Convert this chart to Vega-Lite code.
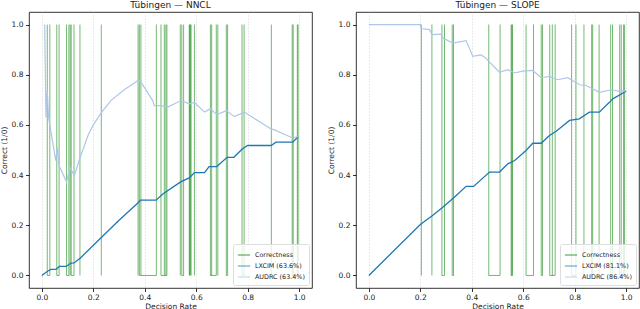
{
  "$schema": "https://vega.github.io/schema/vega-lite/v6.json",
  "padding": {"left": -1, "top": 0, "right": 0, "bottom": 0},
  "spacing": 13,
  "config": {
    "font": "DejaVu Sans",
    "view": {"stroke": "#000", "strokeWidth": 0.8},
    "axis": {
      "labelFontSize": 7.5, "titleFontSize": 7.5, "titleFontWeight": "normal",
      "labelColor": "#222", "titleColor": "#222", "tickColor": "#000",
      "tickSize": 3.5, "tickWidth": 0.8, "domain": false,
      "gridColor": "#bbb", "gridDash": [1, 2], "gridWidth": 0.6,
      "labelPadding": 2.5, "titlePadding": 3
    },
    "axisX": {"labelPadding": 2, "titlePadding": 1},
    "title": {"fontSize": 9, "fontWeight": "normal", "color": "#222", "offset": 2},
    "legend": {
      "orient": "bottom-right", "offset": 3, "padding": 4,
      "fillColor": "rgba(255,255,255,0.8)", "strokeColor": "#ddd", "cornerRadius": 2,
      "labelFontSize": 6.4, "labelColor": "#222", "symbolType": "stroke",
      "symbolSize": 150, "symbolStrokeWidth": 1.4, "rowPadding": 0
    }
  },
  "datasets": {
    "nncl_flips": [
      {"rate": 0.021}, {"rate": 0.031}, {"rate": 0.058}, {"rate": 0.067}, {"rate": 0.096},
      {"rate": 0.105}, {"rate": 0.110}, {"rate": 0.114}, {"rate": 0.125}, {"rate": 0.148},
      {"rate": 0.231}, {"rate": 0.374}, {"rate": 0.379}, {"rate": 0.385}, {"rate": 0.445},
      {"rate": 0.463}, {"rate": 0.476}, {"rate": 0.482}, {"rate": 0.486}, {"rate": 0.538},
      {"rate": 0.544}, {"rate": 0.551}, {"rate": 0.573}, {"rate": 0.576}, {"rate": 0.576},
      {"rate": 0.580}, {"rate": 0.593}, {"rate": 0.655}, {"rate": 0.660}, {"rate": 0.678},
      {"rate": 0.684}, {"rate": 0.717}, {"rate": 0.722}, {"rate": 0.778}, {"rate": 0.786},
      {"rate": 0.892}, {"rate": 0.973}, {"rate": 0.977}, {"rate": 0.993}, {"rate": 0.996}
    ],
    "nncl_zero": [
      {"start": 0.021, "end": 0.031}, {"start": 0.058, "end": 0.067}, {"start": 0.096, "end": 0.105},
      {"start": 0.114, "end": 0.125}, {"start": 0.379, "end": 0.445}, {"start": 0.463, "end": 0.486},
      {"start": 0.544, "end": 0.551}, {"start": 0.655, "end": 0.678}, {"start": 0.717, "end": 0.722},
      {"start": 0.778, "end": 0.786}, {"start": 0.973, "end": 0.977}, {"start": 0.993, "end": 0.996}
    ],
    "nncl_curves": [
      {"series": "LXCIM (63.6%)", "rate": 0.0, "value": 0.0},
      {"series": "LXCIM (63.6%)", "rate": 0.01, "value": 0.008},
      {"series": "LXCIM (63.6%)", "rate": 0.022, "value": 0.017},
      {"series": "LXCIM (63.6%)", "rate": 0.035, "value": 0.024},
      {"series": "LXCIM (63.6%)", "rate": 0.055, "value": 0.024},
      {"series": "LXCIM (63.6%)", "rate": 0.068, "value": 0.036},
      {"series": "LXCIM (63.6%)", "rate": 0.094, "value": 0.036},
      {"series": "LXCIM (63.6%)", "rate": 0.113, "value": 0.049},
      {"series": "LXCIM (63.6%)", "rate": 0.125, "value": 0.05},
      {"series": "LXCIM (63.6%)", "rate": 0.15, "value": 0.07},
      {"series": "LXCIM (63.6%)", "rate": 0.23, "value": 0.15},
      {"series": "LXCIM (63.6%)", "rate": 0.30, "value": 0.22},
      {"series": "LXCIM (63.6%)", "rate": 0.372, "value": 0.288},
      {"series": "LXCIM (63.6%)", "rate": 0.383, "value": 0.30},
      {"series": "LXCIM (63.6%)", "rate": 0.444, "value": 0.30},
      {"series": "LXCIM (63.6%)", "rate": 0.47, "value": 0.325},
      {"series": "LXCIM (63.6%)", "rate": 0.541, "value": 0.374},
      {"series": "LXCIM (63.6%)", "rate": 0.573, "value": 0.389},
      {"series": "LXCIM (63.6%)", "rate": 0.593, "value": 0.41},
      {"series": "LXCIM (63.6%)", "rate": 0.632, "value": 0.41},
      {"series": "LXCIM (63.6%)", "rate": 0.65, "value": 0.434},
      {"series": "LXCIM (63.6%)", "rate": 0.68, "value": 0.434},
      {"series": "LXCIM (63.6%)", "rate": 0.72, "value": 0.471},
      {"series": "LXCIM (63.6%)", "rate": 0.746, "value": 0.471},
      {"series": "LXCIM (63.6%)", "rate": 0.78, "value": 0.505},
      {"series": "LXCIM (63.6%)", "rate": 0.80, "value": 0.518},
      {"series": "LXCIM (63.6%)", "rate": 0.891, "value": 0.518},
      {"series": "LXCIM (63.6%)", "rate": 0.91, "value": 0.531},
      {"series": "LXCIM (63.6%)", "rate": 0.975, "value": 0.531},
      {"series": "LXCIM (63.6%)", "rate": 0.997, "value": 0.554},
      {"series": "AUDRC (63.4%)", "rate": 0.011, "value": 1.0},
      {"series": "AUDRC (63.4%)", "rate": 0.013, "value": 0.84},
      {"series": "AUDRC (63.4%)", "rate": 0.016, "value": 0.63},
      {"series": "AUDRC (63.4%)", "rate": 0.021, "value": 0.74},
      {"series": "AUDRC (63.4%)", "rate": 0.026, "value": 0.63},
      {"series": "AUDRC (63.4%)", "rate": 0.054, "value": 0.458},
      {"series": "AUDRC (63.4%)", "rate": 0.060, "value": 0.51},
      {"series": "AUDRC (63.4%)", "rate": 0.066, "value": 0.44},
      {"series": "AUDRC (63.4%)", "rate": 0.096, "value": 0.372},
      {"series": "AUDRC (63.4%)", "rate": 0.109, "value": 0.431},
      {"series": "AUDRC (63.4%)", "rate": 0.126, "value": 0.398},
      {"series": "AUDRC (63.4%)", "rate": 0.149, "value": 0.471},
      {"series": "AUDRC (63.4%)", "rate": 0.18, "value": 0.56},
      {"series": "AUDRC (63.4%)", "rate": 0.20, "value": 0.60},
      {"series": "AUDRC (63.4%)", "rate": 0.23, "value": 0.647},
      {"series": "AUDRC (63.4%)", "rate": 0.268, "value": 0.697},
      {"series": "AUDRC (63.4%)", "rate": 0.32, "value": 0.74},
      {"series": "AUDRC (63.4%)", "rate": 0.374, "value": 0.777},
      {"series": "AUDRC (63.4%)", "rate": 0.385, "value": 0.771},
      {"series": "AUDRC (63.4%)", "rate": 0.431, "value": 0.697},
      {"series": "AUDRC (63.4%)", "rate": 0.437, "value": 0.677},
      {"series": "AUDRC (63.4%)", "rate": 0.463, "value": 0.677},
      {"series": "AUDRC (63.4%)", "rate": 0.489, "value": 0.671},
      {"series": "AUDRC (63.4%)", "rate": 0.541, "value": 0.697},
      {"series": "AUDRC (63.4%)", "rate": 0.573, "value": 0.684},
      {"series": "AUDRC (63.4%)", "rate": 0.593, "value": 0.69},
      {"series": "AUDRC (63.4%)", "rate": 0.632, "value": 0.651},
      {"series": "AUDRC (63.4%)", "rate": 0.655, "value": 0.664},
      {"series": "AUDRC (63.4%)", "rate": 0.681, "value": 0.641},
      {"series": "AUDRC (63.4%)", "rate": 0.717, "value": 0.657},
      {"series": "AUDRC (63.4%)", "rate": 0.748, "value": 0.633},
      {"series": "AUDRC (63.4%)", "rate": 0.787, "value": 0.651},
      {"series": "AUDRC (63.4%)", "rate": 0.891, "value": 0.584},
      {"series": "AUDRC (63.4%)", "rate": 0.904, "value": 0.58},
      {"series": "AUDRC (63.4%)", "rate": 0.975, "value": 0.548},
      {"series": "AUDRC (63.4%)", "rate": 0.997, "value": 0.554}
    ],
    "slope_flips": [
      {"rate": 0.204}, {"rate": 0.245}, {"rate": 0.284}, {"rate": 0.294}, {"rate": 0.324},
      {"rate": 0.329}, {"rate": 0.466}, {"rate": 0.510}, {"rate": 0.553}, {"rate": 0.556},
      {"rate": 0.558}, {"rate": 0.611}, {"rate": 0.640}, {"rate": 0.670}, {"rate": 0.675},
      {"rate": 0.703}, {"rate": 0.713}, {"rate": 0.724}, {"rate": 0.788}, {"rate": 0.805},
      {"rate": 0.836}, {"rate": 0.866}, {"rate": 0.870}, {"rate": 0.895}, {"rate": 0.940},
      {"rate": 0.947}, {"rate": 0.975}, {"rate": 0.981}, {"rate": 0.990}, {"rate": 0.994}
    ],
    "slope_zero": [
      {"start": 0.284, "end": 0.294}, {"start": 0.324, "end": 0.329}, {"start": 0.466, "end": 0.510},
      {"start": 0.553, "end": 0.558}, {"start": 0.611, "end": 0.640}, {"start": 0.670, "end": 0.675},
      {"start": 0.703, "end": 0.724}, {"start": 0.788, "end": 0.805}, {"start": 0.866, "end": 0.870},
      {"start": 0.940, "end": 0.947}, {"start": 0.975, "end": 0.994}
    ],
    "slope_curves": [
      {"series": "LXCIM (81.1%)", "rate": 0.0, "value": 0.0},
      {"series": "LXCIM (81.1%)", "rate": 0.2, "value": 0.203},
      {"series": "LXCIM (81.1%)", "rate": 0.245, "value": 0.237},
      {"series": "LXCIM (81.1%)", "rate": 0.285, "value": 0.27},
      {"series": "LXCIM (81.1%)", "rate": 0.33, "value": 0.31},
      {"series": "LXCIM (81.1%)", "rate": 0.378, "value": 0.355},
      {"series": "LXCIM (81.1%)", "rate": 0.407, "value": 0.355},
      {"series": "LXCIM (81.1%)", "rate": 0.469, "value": 0.412},
      {"series": "LXCIM (81.1%)", "rate": 0.508, "value": 0.412},
      {"series": "LXCIM (81.1%)", "rate": 0.54, "value": 0.445},
      {"series": "LXCIM (81.1%)", "rate": 0.567, "value": 0.458},
      {"series": "LXCIM (81.1%)", "rate": 0.611, "value": 0.498},
      {"series": "LXCIM (81.1%)", "rate": 0.637, "value": 0.527},
      {"series": "LXCIM (81.1%)", "rate": 0.67, "value": 0.527},
      {"series": "LXCIM (81.1%)", "rate": 0.702, "value": 0.558},
      {"series": "LXCIM (81.1%)", "rate": 0.728, "value": 0.575},
      {"series": "LXCIM (81.1%)", "rate": 0.78, "value": 0.618},
      {"series": "LXCIM (81.1%)", "rate": 0.818, "value": 0.624},
      {"series": "LXCIM (81.1%)", "rate": 0.857, "value": 0.651},
      {"series": "LXCIM (81.1%)", "rate": 0.896, "value": 0.651},
      {"series": "LXCIM (81.1%)", "rate": 0.935, "value": 0.69},
      {"series": "LXCIM (81.1%)", "rate": 0.948, "value": 0.704},
      {"series": "LXCIM (81.1%)", "rate": 1.0, "value": 0.734},
      {"series": "AUDRC (86.4%)", "rate": 0.0, "value": 1.0},
      {"series": "AUDRC (86.4%)", "rate": 0.2, "value": 1.0},
      {"series": "AUDRC (86.4%)", "rate": 0.203, "value": 0.984},
      {"series": "AUDRC (86.4%)", "rate": 0.236, "value": 0.98},
      {"series": "AUDRC (86.4%)", "rate": 0.245, "value": 0.96},
      {"series": "AUDRC (86.4%)", "rate": 0.28, "value": 0.962},
      {"series": "AUDRC (86.4%)", "rate": 0.29, "value": 0.943},
      {"series": "AUDRC (86.4%)", "rate": 0.30, "value": 0.94},
      {"series": "AUDRC (86.4%)", "rate": 0.326, "value": 0.926},
      {"series": "AUDRC (86.4%)", "rate": 0.378, "value": 0.936},
      {"series": "AUDRC (86.4%)", "rate": 0.404, "value": 0.873},
      {"series": "AUDRC (86.4%)", "rate": 0.436, "value": 0.879},
      {"series": "AUDRC (86.4%)", "rate": 0.45, "value": 0.87},
      {"series": "AUDRC (86.4%)", "rate": 0.508, "value": 0.81},
      {"series": "AUDRC (86.4%)", "rate": 0.54, "value": 0.82},
      {"series": "AUDRC (86.4%)", "rate": 0.567, "value": 0.807},
      {"series": "AUDRC (86.4%)", "rate": 0.598, "value": 0.814},
      {"series": "AUDRC (86.4%)", "rate": 0.637, "value": 0.817},
      {"series": "AUDRC (86.4%)", "rate": 0.67, "value": 0.788},
      {"series": "AUDRC (86.4%)", "rate": 0.702, "value": 0.793},
      {"series": "AUDRC (86.4%)", "rate": 0.734, "value": 0.78},
      {"series": "AUDRC (86.4%)", "rate": 0.773, "value": 0.788},
      {"series": "AUDRC (86.4%)", "rate": 0.819, "value": 0.76},
      {"series": "AUDRC (86.4%)", "rate": 0.845, "value": 0.757},
      {"series": "AUDRC (86.4%)", "rate": 0.896, "value": 0.73},
      {"series": "AUDRC (86.4%)", "rate": 0.942, "value": 0.74},
      {"series": "AUDRC (86.4%)", "rate": 0.974, "value": 0.734},
      {"series": "AUDRC (86.4%)", "rate": 1.0, "value": 0.737}
    ]
  },
  "hconcat": [
    {
      "width": 283, "height": 276,
      "title": "Tübingen — NNCL",
      "layer": [
        {
          "data": {"name": "nncl_zero"},
          "mark": {"type": "rule", "strokeWidth": 1, "opacity": 0.55},
          "encoding": {
            "x": {"field": "start", "type": "quantitative", "scale": {"domain": [-0.05, 1.05], "nice": false, "zero": false},
                  "axis": {"values": [0, 0.2, 0.4, 0.6, 0.8, 1.0], "format": ".1f", "title": "Decision Rate"}},
            "x2": {"field": "end"},
            "y": {"datum": 0, "type": "quantitative", "scale": {"domain": [-0.05, 1.05], "nice": false, "zero": false},
                  "axis": {"values": [0, 0.2, 0.4, 0.6, 0.8, 1.0], "format": ".1f", "title": "Correct (1/0)"}},
            "color": {"datum": "Correctness", "type": "nominal", "title": null,
                      "scale": {"domain": ["Correctness", "LXCIM (63.6%)", "AUDRC (63.4%)"], "range": ["#008000", "#1f77b4", "#aec7e8"]}}
          }
        },
        {
          "data": {"name": "nncl_flips"},
          "mark": {"type": "rule", "strokeWidth": 1, "opacity": 0.55},
          "encoding": {
            "x": {"field": "rate", "type": "quantitative"},
            "y": {"datum": 0, "type": "quantitative"},
            "y2": {"datum": 1},
            "color": {"datum": "Correctness", "type": "nominal"}
          }
        },
        {
          "data": {"name": "nncl_curves"},
          "transform": [{"filter": "indexof(datum.series, 'LXCIM') == 0"}],
          "mark": {"type": "line", "strokeWidth": 1.3},
          "encoding": {
            "x": {"field": "rate", "type": "quantitative"},
            "y": {"field": "value", "type": "quantitative"},
            "color": {"field": "series", "type": "nominal"}
          }
        },
        {
          "data": {"name": "nncl_curves"},
          "transform": [{"filter": "indexof(datum.series, 'AUDRC') == 0"}],
          "mark": {"type": "line", "strokeWidth": 1.2},
          "encoding": {
            "x": {"field": "rate", "type": "quantitative"},
            "y": {"field": "value", "type": "quantitative"},
            "color": {"field": "series", "type": "nominal"}
          }
        }
      ]
    },
    {
      "width": 283, "height": 276,
      "title": "Tübingen — SLOPE",
      "layer": [
        {
          "data": {"name": "slope_zero"},
          "mark": {"type": "rule", "strokeWidth": 1, "opacity": 0.55},
          "encoding": {
            "x": {"field": "start", "type": "quantitative", "scale": {"domain": [-0.05, 1.05], "nice": false, "zero": false},
                  "axis": {"values": [0, 0.2, 0.4, 0.6, 0.8, 1.0], "format": ".1f", "title": "Decision Rate"}},
            "x2": {"field": "end"},
            "y": {"datum": 0, "type": "quantitative", "scale": {"domain": [-0.05, 1.05], "nice": false, "zero": false},
                  "axis": {"values": [0, 0.2, 0.4, 0.6, 0.8, 1.0], "format": ".1f", "title": "Correct (1/0)"}},
            "color": {"datum": "Correctness", "type": "nominal", "title": null,
                      "scale": {"domain": ["Correctness", "LXCIM (81.1%)", "AUDRC (86.4%)"], "range": ["#008000", "#1f77b4", "#aec7e8"]}}
          }
        },
        {
          "data": {"name": "slope_flips"},
          "mark": {"type": "rule", "strokeWidth": 1, "opacity": 0.55},
          "encoding": {
            "x": {"field": "rate", "type": "quantitative"},
            "y": {"datum": 0, "type": "quantitative"},
            "y2": {"datum": 1},
            "color": {"datum": "Correctness", "type": "nominal"}
          }
        },
        {
          "data": {"name": "slope_curves"},
          "transform": [{"filter": "indexof(datum.series, 'LXCIM') == 0"}],
          "mark": {"type": "line", "strokeWidth": 1.3},
          "encoding": {
            "x": {"field": "rate", "type": "quantitative"},
            "y": {"field": "value", "type": "quantitative"},
            "color": {"field": "series", "type": "nominal"}
          }
        },
        {
          "data": {"name": "slope_curves"},
          "transform": [{"filter": "indexof(datum.series, 'AUDRC') == 0"}],
          "mark": {"type": "line", "strokeWidth": 1.2},
          "encoding": {
            "x": {"field": "rate", "type": "quantitative"},
            "y": {"field": "value", "type": "quantitative"},
            "color": {"field": "series", "type": "nominal"}
          }
        }
      ]
    }
  ],
  "resolve": {"scale": {"color": "independent"}, "legend": {"color": "independent"}}
}
